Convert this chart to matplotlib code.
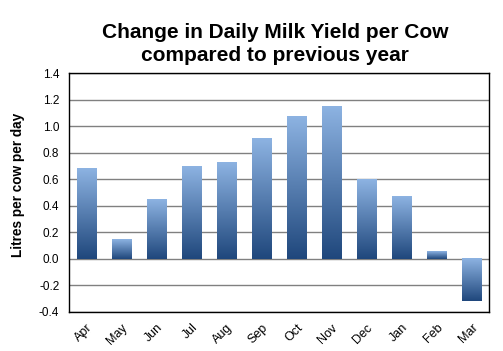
import numpy as np
import matplotlib
matplotlib.use("Agg")
import matplotlib.pyplot as plt
from matplotlib.colors import LinearSegmentedColormap

months = ["Apr", "May", "Jun", "Jul", "Aug", "Sep", "Oct", "Nov", "Dec", "Jan", "Feb", "Mar"]
values = [0.68, 0.15, 0.45, 0.70, 0.73, 0.91, 1.07, 1.145, 0.60, 0.467, 0.053, -0.32]
yticks = [-0.4, -0.2, 0.0, 0.2, 0.4, 0.6, 0.8, 1.0, 1.2, 1.4]

plt.rcParams['font.family'] = ['Liberation Sans', 'DejaVu Sans']

fig = plt.figure(figsize=(5.03, 3.51), dpi=100)
ax = fig.add_axes([69/503, 1 - 312/351, 420/503, 239/351])

x = np.arange(len(months))
bars = ax.bar(x, values, width=0.55, color='none', edgecolor='none', zorder=3)

cmap = LinearSegmentedColormap.from_list('g', ['#1f477c', '#8db3e2'])
grad = np.linspace(0, 1, 256).reshape(-1, 1)
for b in bars:
    x0, y0 = b.get_x(), b.get_y()
    w, h = b.get_width(), b.get_height()
    ylo, yhi = min(y0, y0 + h), max(y0, y0 + h)
    ax.imshow(grad, cmap=cmap, aspect='auto', origin='lower',
              extent=[x0, x0 + w, ylo, yhi], zorder=3, interpolation='bilinear')

ax.set_xlim(-0.5, len(months) - 0.5)
ax.set_ylim(-0.4, 1.4)
ax.set_yticks(yticks)
ax.set_yticklabels([f"{v:.1f}" for v in yticks], fontsize=8.5)
ax.set_xticks(x)
ax.set_xticklabels(months, fontsize=9, rotation=45, ha='right', rotation_mode='anchor')
ax.tick_params(axis='both', length=0, pad=7)
ax.yaxis.grid(True, color='#808080', linewidth=1, zorder=1)
ax.set_axisbelow(True)
for s in ax.spines.values():
    s.set_color('black')
    s.set_linewidth(1)

ax.set_ylabel("Litres per cow per day", fontsize=9.8, fontweight='bold')
ax.yaxis.set_label_coords(-0.105, 0.531)

fig.text(275/503, 1 - 44/351, "Change in Daily Milk Yield per Cow\ncompared to previous year",
         ha='center', va='center', fontsize=15, fontweight='bold', linespacing=1.25)

fig.savefig("out.png", dpi=100)
